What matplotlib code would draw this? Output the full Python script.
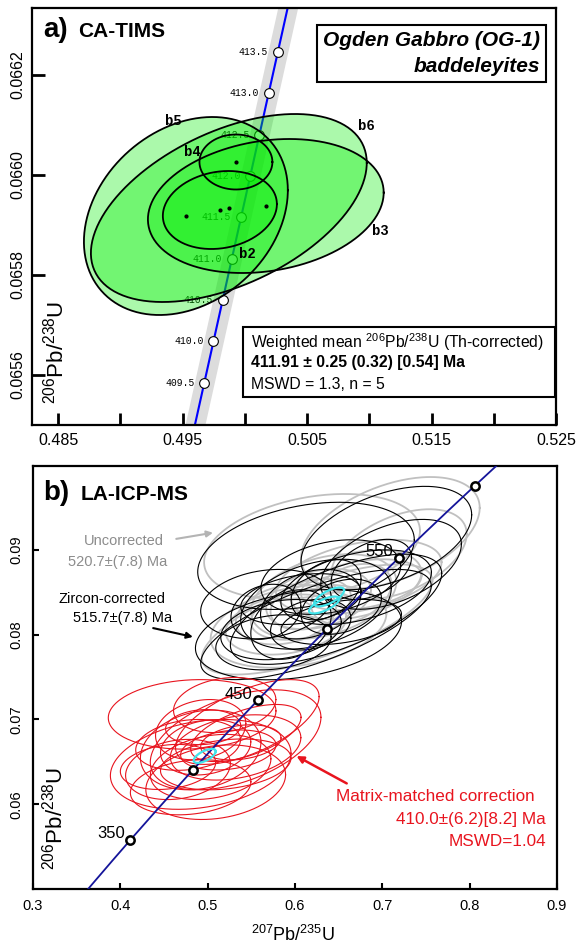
import numpy as np
import matplotlib.pyplot as plt
from matplotlib.ticker import FixedLocator, FormatStrFormatter
from matplotlib.patches import Rectangle

plt.rcParams['font.family'] = ['Liberation Sans', 'DejaVu Sans']
plt.rcParams['mathtext.fontset'] = 'custom'
plt.rcParams['mathtext.rm'] = 'Liberation Sans'
plt.rcParams['mathtext.it'] = 'Liberation Sans:italic'
plt.rcParams['mathtext.bf'] = 'Liberation Sans:bold'

# decay constants (1/yr)
L238 = 1.55125e-10
L235 = 9.8485e-10

# ---- a) CA-TIMS baddeleyite analyses (2 sigma half-widths) ----
tims_names = ['b5', 'b6', 'b3', 'b2', 'b4']
tims_x = [0.49527, 0.49872, 0.50169, 0.49800, 0.49929]
tims_sx = [0.00819, 0.01108, 0.00947, 0.00458, 0.00293]
tims_y = [0.065918, 0.065934, 0.065938, 0.065930, 0.066026]
tims_sy = [0.000198, 0.000188, 0.000134, 0.000078, 0.000055]
tims_rho = [0.26, 0.48, 0.20, 0.15, 0.0]
tims_lab_x = [0.49423, 0.50980, 0.51092, 0.50025, 0.49583]
tims_lab_y = [0.066108, 0.066098, 0.065888, 0.065842, 0.066046]
tims_ages = [409.5, 410.0, 410.5, 411.0, 411.5, 412.0, 412.5, 413.0, 413.5]

# ---- b) LA-ICP-MS analyses ----
unc_x = [0.6195, 0.7092, 0.6040, 0.6328, 0.6730, 0.6270, 0.5897, 0.6644, 0.7190, 0.5897,
         0.6700, 0.6180, 0.6253, 0.6069, 0.6759]
unc_sx = [0.1236, 0.1023, 0.1006, 0.0833, 0.0948, 0.0600, 0.0575, 0.0460, 0.0776, 0.0690,
          0.0747, 0.0460, 0.1320, 0.0575, 0.0690]
unc_y = [0.0904, 0.0920, 0.0810, 0.0845, 0.0868, 0.0842, 0.0824, 0.0848, 0.0895, 0.0812,
         0.0859, 0.0836, 0.0818, 0.0824, 0.0859]
unc_sy = [0.0062, 0.0066, 0.0049, 0.0050, 0.0044, 0.00355, 0.00355, 0.00355, 0.0053, 0.00355,
          0.0041, 0.0030, 0.0065, 0.0030, 0.0030]
unc_rho = [0.3, 0.45, 0.3, 0.35, 0.4, 0.3, 0.25, 0.35, 0.45, 0.25,
           0.35, 0.3, 0.7, 0.3, 0.35]

zc_x = [0.6126, 0.6040, 0.7046, 0.6240, 0.6180, 0.6700, 0.5954, 0.6530, 0.5840, 0.7100,
        0.5667, 0.6356, 0.6180, 0.6874, 0.5667, 0.6240, 0.6470, 0.6410, 0.5753, 0.6069, 0.6529]
zc_sx = [0.124, 0.118, 0.0977, 0.0862, 0.0575, 0.0862, 0.046, 0.046, 0.069, 0.0805,
         0.040, 0.040, 0.046, 0.046, 0.0747, 0.132, 0.121, 0.080, 0.066, 0.069, 0.069]
zc_y = [0.0893, 0.0800, 0.0914, 0.0836, 0.0836, 0.0856, 0.0812, 0.0833, 0.0806, 0.0883,
        0.0827, 0.0853, 0.0812, 0.0877, 0.0836, 0.0812, 0.0830, 0.0868, 0.0791, 0.0842, 0.0815]
zc_sy = [0.00632, 0.00532, 0.0061, 0.0053, 0.0041, 0.0044, 0.0041, 0.00325, 0.00355, 0.0053,
         0.00325, 0.00355, 0.0030, 0.00355, 0.0041, 0.0065, 0.0065, 0.0044, 0.00325, 0.0030, 0.00266]
zc_rho = [0.3, 0.3, 0.45, 0.35, 0.3, 0.4, 0.25, 0.3, 0.25, 0.45,
          0.2, 0.35, 0.25, 0.4, 0.2, 0.7, 0.65, 0.3, 0.2, 0.3, 0.35]

mm_x = [0.4822, 0.4920, 0.5320, 0.4920, 0.4977, 0.5092, 0.4660, 0.5320, 0.5236, 0.4805,
        0.4920, 0.5454, 0.5437, 0.4546, 0.5380, 0.5034, 0.4948, 0.5195, 0.5207, 0.4776]
mm_sx = [0.096, 0.1034, 0.0977, 0.069, 0.0517, 0.080, 0.060, 0.0747, 0.0546, 0.069,
         0.0517, 0.0822, 0.0632, 0.0546, 0.046, 0.069, 0.043, 0.0586, 0.0747, 0.060]
mm_y = [0.0706, 0.0647, 0.0676, 0.0664, 0.0667, 0.0626, 0.0641, 0.0667, 0.0664, 0.0620,
        0.0688, 0.0697, 0.0684, 0.0644, 0.0673, 0.0644, 0.0691, 0.0717, 0.0647, 0.0670]
mm_sy = [0.0041, 0.0053, 0.0059, 0.0047, 0.00325, 0.0044, 0.00355, 0.00385, 0.00236, 0.00325,
         0.00355, 0.0050, 0.00337, 0.00266, 0.00207, 0.00384, 0.00207, 0.00325, 0.0030, 0.0030]
mm_rho = [0.1, 0.25, 0.45, 0.2, 0.2, 0.2, 0.2, 0.3, 0.25, 0.2,
          0.2, 0.6, 0.55, 0.2, 0.25, 0.25, 0.1, 0.2, 0.25, 0.2]

mean_x = [0.6390, 0.6333, 0.4966]
mean_sx = [0.0172, 0.0172, 0.0126]
mean_y = [0.08445, 0.0835, 0.0657]
mean_sy = [0.00112, 0.0010, 0.00083]
mean_rho = [0.7, 0.7, 0.65]

la_ages = [350, 400, 450, 500, 550, 600]
la_age_labels = ['350', '', '450', '', '550', '']


def concordia(t_ma):
    t = np.asarray(t_ma, dtype=float) * 1e6
    return np.exp(L235 * t) - 1, np.exp(L238 * t) - 1


def ellipse(x, sx, y, sy, rho, n=240):
    a = np.linspace(0, 2 * np.pi, n)
    ex = x + sx * np.cos(a)
    ey = y + sy * (rho * np.cos(a) + np.sqrt(1 - rho ** 2) * np.sin(a))
    return ex, ey


fig = plt.figure(figsize=(5.82, 9.47), dpi=100)
ax1 = fig.add_axes([32 / 582, 1 - 425 / 947, 524 / 582, 417 / 947])
ax2 = fig.add_axes([33 / 582, 1 - 889 / 947, 524 / 582, 423 / 947])

# ================= panel a =================
t = np.linspace(409.0, 414.6, 300)
ccx, ccy = concordia(t)
ax1.fill_betweenx(ccy, ccx - 0.0008, ccx + 0.0008, color='#dcdcdc', lw=0, zorder=1)
ax1.plot(ccx, ccy, color='#0000ff', lw=1.5, zorder=2)
mx, my = concordia(tims_ages)
ax1.plot(mx, my, 'o', ms=7, mfc='white', mec='black', mew=0.8, zorder=3)
for age, xx, yy in zip(tims_ages, mx, my):
    ax1.annotate(f'{age:.1f}', (xx, yy), xytext=(-7, 0), textcoords='offset points',
                 ha='right', va='center', fontsize=7, family='Liberation Mono', zorder=3)

for i in range(len(tims_x)):
    ex, ey = ellipse(tims_x[i], tims_sx[i], tims_y[i], tims_sy[i], tims_rho[i])
    ax1.fill(ex, ey, facecolor=(0.0, 0.93, 0.0), alpha=0.33, edgecolor='none', zorder=4)
    ax1.plot(ex, ey, color='black', lw=1.3, zorder=5)
    ax1.text(tims_lab_x[i], tims_lab_y[i], tims_names[i], fontsize=10, family='Liberation Mono',
             weight='bold', ha='center', va='center', zorder=6)
ax1.plot(tims_x, tims_y, 'o', color='black', ms=2, zorder=6)

ax1.set_xlim(0.48291, 0.525)
ax1.set_ylim(0.0655, 0.066334)
ax1.xaxis.set_major_locator(FixedLocator([0.485, 0.495, 0.505, 0.515, 0.525]))
ax1.xaxis.set_minor_locator(FixedLocator([0.49, 0.50, 0.51, 0.52]))
ax1.xaxis.set_major_formatter(FormatStrFormatter('%.3f'))
ax1.yaxis.set_major_locator(FixedLocator([0.0656, 0.0658, 0.0660, 0.0662]))
ax1.yaxis.set_major_formatter(FormatStrFormatter('%.4f'))
ax1.tick_params(which='both', direction='in', length=9, width=2, labelsize=11.5)
ax1.tick_params(axis='x', pad=6)
ax1.tick_params(axis='y', pad=5)
for lab in ax1.get_yticklabels():
    lab.set_rotation(90)
    lab.set_va('center')
for s in ax1.spines.values():
    s.set_linewidth(1.6)

ax1.text(0.021, 0.930, 'a)', transform=ax1.transAxes, fontsize=20, weight='bold')
ax1.text(0.088, 0.930, 'CA-TIMS', transform=ax1.transAxes, fontsize=15, weight='bold')
ax1.text(0.969, 0.944, 'Ogden Gabbro (OG-1)\nbaddeleyites', transform=ax1.transAxes,
         fontsize=15, weight='bold', style='italic', ha='right', va='top', linespacing=1.45,
         bbox=dict(boxstyle='square,pad=0.3', facecolor='white', edgecolor='black', lw=1.5))
ax1.text(0.044, 0.175, r'$^{206}$Pb/$^{238}$U', transform=ax1.transAxes, fontsize=16,
         rotation=90, ha='center', va='center')

ax1.add_patch(Rectangle((0.4027, 0.067), 0.595, 0.168, transform=ax1.transAxes,
                        facecolor='white', edgecolor='black', lw=1.5, zorder=7))
ax1.text(0.418, 0.199, r'Weighted mean $^{206}$Pb/$^{238}$U (Th-corrected)', transform=ax1.transAxes,
         fontsize=11.3, va='center', zorder=8)
ax1.text(0.418, 0.149, '411.91 ± 0.25 (0.32) [0.54] Ma', transform=ax1.transAxes,
         fontsize=11.3, weight='bold', va='center', zorder=8)
ax1.text(0.418, 0.096, 'MSWD = 1.3, n = 5', transform=ax1.transAxes,
         fontsize=11.3, va='center', zorder=8)

# ================= panel b =================
t2 = np.linspace(300, 650, 400)
c2x, c2y = concordia(t2)
ax2.plot(c2x, c2y, color='#14149a', lw=1.3, zorder=5)

for i in range(len(unc_x)):
    ex, ey = ellipse(unc_x[i], unc_sx[i], unc_y[i], unc_sy[i], unc_rho[i])
    ax2.plot(ex, ey, color='#c0c0c0', lw=1.3, zorder=2)
for i in range(len(zc_x)):
    ex, ey = ellipse(zc_x[i], zc_sx[i], zc_y[i], zc_sy[i], zc_rho[i])
    ax2.plot(ex, ey, color='black', lw=0.8, zorder=3)
for i in range(len(mm_x)):
    ex, ey = ellipse(mm_x[i], mm_sx[i], mm_y[i], mm_sy[i], mm_rho[i])
    ax2.plot(ex, ey, color='#e8141e', lw=0.8, zorder=3)
for i in range(len(mean_x)):
    ex, ey = ellipse(mean_x[i], mean_sx[i], mean_y[i], mean_sy[i], mean_rho[i])
    ax2.plot(ex, ey, color='#3fe3ea', lw=1.6, zorder=6)

lx, ly = concordia(la_ages)
ax2.plot(lx, ly, 'o', ms=6, mfc='white', mec='black', mew=1.8, zorder=7)
for lab, xx, yy in zip(la_age_labels, lx, ly):
    if lab:
        ax2.annotate(lab, (xx, yy), xytext=(-4, 1), textcoords='offset points',
                     ha='right', va='baseline', fontsize=12, zorder=8)

ax2.set_xlim(0.3, 0.9)
ax2.set_ylim(0.05, 0.0999)
ax2.xaxis.set_major_locator(FixedLocator([0.3, 0.4, 0.5, 0.6, 0.7, 0.8, 0.9]))
ax2.xaxis.set_major_formatter(FormatStrFormatter('%.1f'))
ax2.yaxis.set_major_locator(FixedLocator([0.06, 0.07, 0.08, 0.09]))
ax2.yaxis.set_major_formatter(FormatStrFormatter('%.2f'))
ax2.tick_params(direction='in', length=4, width=1.5, labelsize=10.5)
ax2.tick_params(axis='x', pad=7)
ax2.tick_params(axis='y', pad=7)
for lab in ax2.get_yticklabels():
    lab.set_rotation(90)
    lab.set_va('center')
for s in ax2.spines.values():
    s.set_linewidth(1.6)

ax2.text(0.019, 0.92, 'b)', transform=ax2.transAxes, fontsize=20, weight='bold')
ax2.text(0.090, 0.92, 'LA-ICP-MS', transform=ax2.transAxes, fontsize=15, weight='bold')
ax2.text(0.042, 0.168, r'$^{206}$Pb/$^{238}$U', transform=ax2.transAxes, fontsize=16,
         rotation=90, ha='center', va='center')
fig.text(293 / 582, 1 - 935 / 947, r'$^{207}$Pb/$^{235}$U', fontsize=13, ha='center', va='center')

ax2.text(0.4494, 0.0910, 'Uncorrected', color='#8c8c8c', fontsize=10.5, ha='right', va='center')
ax2.text(0.4540, 0.08853, '520.7±(7.8) Ma', color='#8c8c8c', fontsize=10.5, ha='right', va='center')
ax2.annotate('', xy=(0.5092, 0.09208), xytext=(0.4609, 0.09125),
             arrowprops=dict(arrowstyle='-|>', color='#b4b4b4', lw=1.5, mutation_scale=9))
ax2.text(0.3908, 0.08416, 'Zircon-corrected', color='black', fontsize=10.5, ha='center', va='center')
ax2.text(0.4023, 0.0820, '515.7±(7.8) Ma', color='black', fontsize=10.5, ha='center', va='center')
ax2.annotate('', xy=(0.4862, 0.07967), xytext=(0.4345, 0.08085),
             arrowprops=dict(arrowstyle='-|>', color='black', lw=1.5, mutation_scale=9))
ax2.text(0.8747, 0.06087, 'Matrix-matched correction', color='#e8141e', fontsize=12.3,
         ha='right', va='center')
ax2.text(0.8874, 0.05816, '410.0±(6.2)[8.2] Ma', color='#e8141e', fontsize=12.3, ha='right', va='center')
ax2.text(0.8874, 0.05556, 'MSWD=1.04', color='#e8141e', fontsize=12.3, ha='right', va='center')
ax2.annotate('', xy=(0.5989, 0.06584), xytext=(0.662, 0.0623),
             arrowprops=dict(arrowstyle='-|>', color='#e8141e', lw=1.8, mutation_scale=10))

fig.savefig('out.png', dpi=100)
